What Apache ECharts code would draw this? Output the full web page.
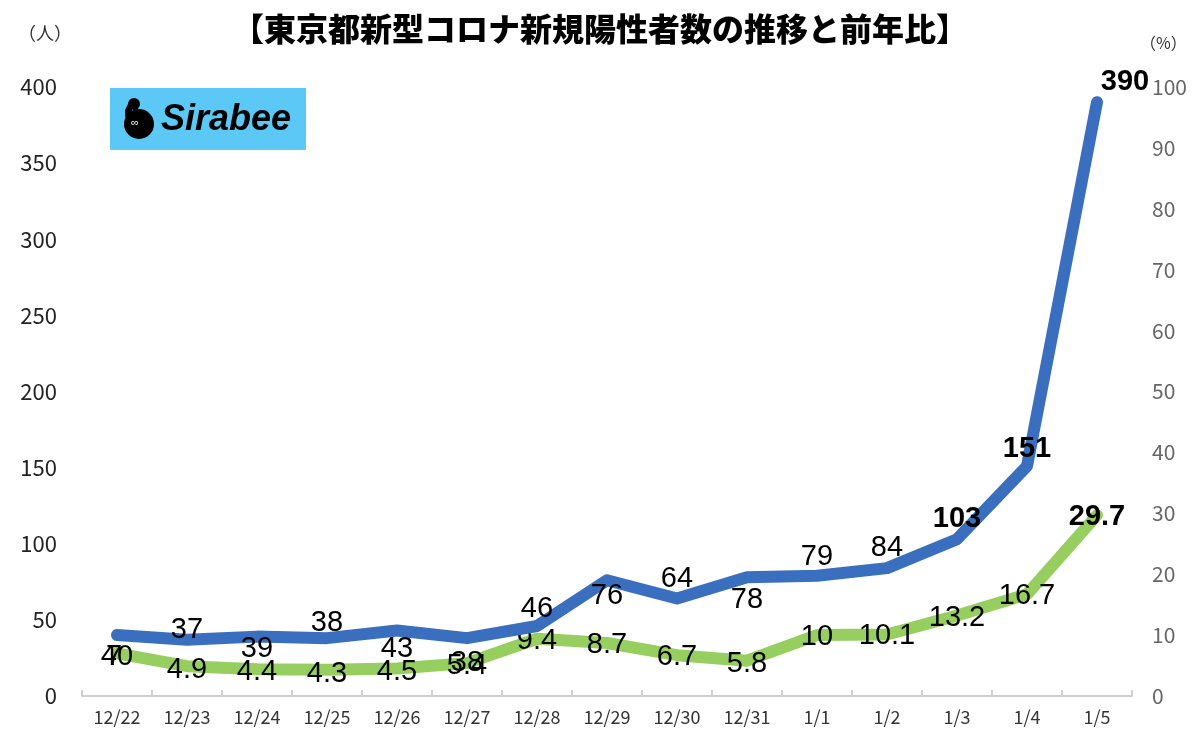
<!DOCTYPE html>
<html><head><meta charset="utf-8">
<script src="https://cdn.jsdelivr.net/npm/echarts@6/dist/echarts.min.js"></script>
<style>html,body{margin:0;padding:0;background:#fff}#c{width:1200px;height:738px}</style>
</head><body><div id="c"></div>
<script>
const categories = ['12/22','12/23','12/24','12/25','12/26','12/27','12/28','12/29','12/30','12/31','1/1','1/2','1/3','1/4','1/5'];
const cases = [40,37,39,38,43,38,46,76,64,78,79,84,103,151,390];
const ratio = [7,4.9,4.4,4.3,4.5,5.4,9.4,8.7,6.7,5.8,10,10.1,13.2,16.7,29.7];
const leftTicks = [0,400,50];
const rightTicks = [0,100,10];
// label placements: [x offset, y offset]
const caseLabelOffsets = [[0,22],[0,-10],[0,12],[0,-15],[0,18],[0,25],[0,-17],[0,16],[0,-20],[0,23],[0,-19],[0,-20],[0,-20],[0,-17],[28,-20]];
const ratioLabelOffsets = [[-3,4],[0,4],[0,3],[0,4],[0,3],[0,3],[0,2],[0,2],[0,2],[0,3],[0,2],[0,2],[0,2],[0,2],[0,2]];
const boldCase = [0,0,0,0,0,0,0,0,0,0,0,0,1,1,1];
const boldRatio = [0,0,0,0,0,0,0,0,0,0,0,0,0,0,1];

const labelFont = {fontFamily:'Liberation Sans, Arial, sans-serif', fontSize:29, color:'#000'};
const chart = echarts.init(document.getElementById('c'));
chart.setOption({
  backgroundColor:'#fff',
  animation:false,
  title:{text:'【東京都新型コロナ新規陽性者数の推移と前年比】',left:'center',top:8,
    textStyle:{fontFamily:'Noto Sans CJK JP',fontWeight:900,fontSize:32,color:'#000'}},
  grid:{left:82,right:68,top:87,bottom:42},
  graphic:[
    {type:'text',left:18,top:24,style:{text:'（人）',font:'18px "Noto Sans CJK JP"',fill:'#333'}},
    {type:'text',left:1140,top:35,style:{text:'（%）',font:'16px "Noto Sans CJK JP"',fill:'#333'}},
    {type:'rect',shape:{x:110,y:88,width:196,height:62},style:{fill:'#5BC8F5'}},
    {type:'circle',shape:{cx:139,cy:124,r:15},style:{fill:'#000'}},
    {type:'circle',shape:{cx:134,cy:104,r:6},style:{fill:'#000'}},
    {type:'polygon',shape:{points:[[128,104],[125,110],[125,116],[128,121],[135,118],[132,113],[132,109],[134,106]]},style:{fill:'#000'}},
    {type:'text',x:131,y:117,style:{text:'∞',font:'11px sans-serif',fill:'#fff'}},
    {type:'text',x:161,y:102,style:{text:'Sirabee',font:'italic bold 36px "Liberation Sans", Arial',fill:'#000'}}
  ],
  xAxis:{type:'category',data:categories,boundaryGap:true,
    axisLine:{lineStyle:{color:'#d0d0d0',width:2}},
    axisTick:{show:true,inside:true,length:6,lineStyle:{color:'#d0d0d0',width:2}},
    axisLabel:{fontFamily:'Noto Sans CJK JP',fontSize:18,color:'#333',margin:12}},
  yAxis:[
    {type:'value',min:leftTicks[0],max:leftTicks[1],interval:leftTicks[2],
      axisLine:{show:false},axisTick:{show:false},splitLine:{show:false},
      axisLabel:{fontFamily:'Noto Sans CJK JP',fontSize:22,color:'#222',margin:25}},
    {type:'value',min:rightTicks[0],max:rightTicks[1],interval:rightTicks[2],position:'right',
      axisLine:{show:false},axisTick:{show:false},splitLine:{show:false},
      axisLabel:{fontFamily:'Noto Sans CJK JP',fontSize:21,color:'#666',margin:20}}
  ],
  series:[
    {type:'line',name:'陽性者数',yAxisIndex:0,
      data:cases.map((v,i)=>({value:v,label:{offset:caseLabelOffsets[i],fontWeight:boldCase[i]?'bold':'normal'}})),
      symbol:'circle',symbolSize:1,showSymbol:true,itemStyle:{color:'rgba(0,0,0,0)'},
      lineStyle:{color:'#3A6EBE',width:12,join:'round',cap:'round'},z:3,
      label:{show:true,position:'inside',...labelFont}},
    {type:'line',name:'前年比',yAxisIndex:1,
      data:ratio.map((v,i)=>({value:v,label:{offset:ratioLabelOffsets[i],fontWeight:boldRatio[i]?'bold':'normal'}})),
      symbol:'circle',symbolSize:1,showSymbol:true,itemStyle:{color:'rgba(0,0,0,0)'},
      lineStyle:{color:'#96CF5F',width:12,join:'round',cap:'round'},z:2,
      label:{show:true,position:'inside',...labelFont}}
  ]
});
</script></body></html>
